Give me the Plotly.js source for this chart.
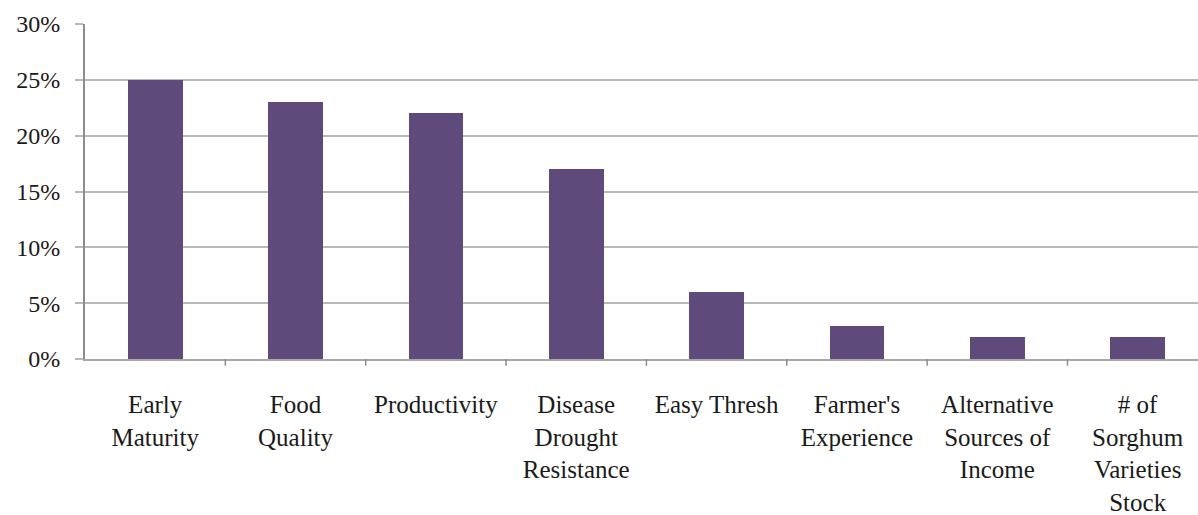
<!DOCTYPE html>
<html>
<head>
<meta charset="utf-8">
<script src="https://cdn.plot.ly/plotly-3.0.1.min.js"></script>
<style>html,body{margin:0;padding:0;background:#fff;overflow:hidden}#chart{width:1198px;height:515px}</style>
</head>
<body>
<div id="chart"></div>
<script>
const categories = [
  "Early<br>Maturity",
  "Food<br>Quality",
  "Productivity",
  "Disease<br>Drought<br>Resistance",
  "Easy Thresh",
  "Farmer's<br>Experience",
  "Alternative<br>Sources of<br>Income",
  "# of<br>Sorghum<br>Varieties<br>Stock"
];
const shares = [0.25, 0.23, 0.22, 0.17, 0.06, 0.03, 0.02, 0.02];
const yTickVals = [0, 0.05, 0.10, 0.15, 0.20, 0.25, 0.30];
const yTickText = ["0%", "5%", "10%", "15%", "20%", "25%", "30%"];

const serif = "'Liberation Serif', 'DejaVu Serif', serif";

const trace = {
  type: "bar",
  x: categories.map((c, i) => i),
  y: shares,
  width: 0.39,
  marker: {color: "#5e4a7b", line: {width: 0}},
  hoverinfo: "none"
};

const layout = {
  width: 1198,
  height: 515,
  margin: {l: 85, r: 0, t: 24, b: 156},
  paper_bgcolor: "#ffffff",
  plot_bgcolor: "#ffffff",
  showlegend: false,
  bargap: 0,
  xaxis: {
    type: "linear",
    range: [-0.5, 7.43],
    tickmode: "array",
    tickvals: categories.map((c, i) => i),
    ticktext: categories,
    ticks: "",
    showgrid: false,
    zeroline: false,
    showline: true,
    linecolor: "#a8a8a8",
    linewidth: 2,
    ticklabelstandoff: 22,
    tickfont: {family: serif, size: 25, color: "#1a1a1a"},
    fixedrange: true
  },
  yaxis: {
    range: [0, 0.30],
    tickmode: "array",
    tickvals: yTickVals,
    ticktext: yTickText,
    ticks: "outside",
    ticklen: 8,
    tickwidth: 2,
    tickcolor: "#b8b8b8",
    showgrid: true,
    gridcolor: "#b8b8b8",
    gridwidth: 2,
    zeroline: false,
    showline: true,
    linecolor: "#8c8c8c",
    linewidth: 2,
    ticklabelstandoff: 10,
    tickfont: {family: serif, size: 24, color: "#1a1a1a"},
    fixedrange: true
  },
  shapes: [0.5, 1.5, 2.5, 3.5, 4.5, 5.5, 6.5].map(v => ({
    type: "line", xref: "x", yref: "paper", x0: v, x1: v, y0: 0, y1: -0.02,
    line: {color: "#8c8c8c", width: 1.5}
  }))
};

Plotly.newPlot("chart", [trace], layout, {displayModeBar: false, staticPlot: true});
</script>
</body>
</html>
